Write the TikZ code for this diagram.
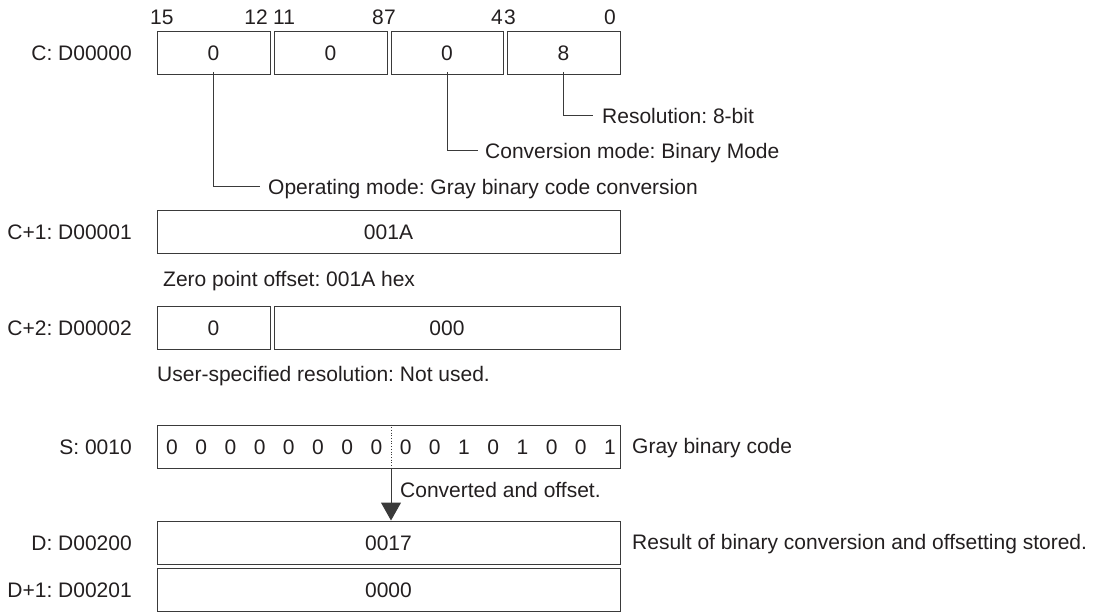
\documentclass[tikz,border=0pt]{standalone}
\usepackage{fontspec}
\setmainfont{Liberation Sans}
\usetikzlibrary{arrows.meta}
\definecolor{ink}{HTML}{231F20}
\definecolor{rule}{HTML}{3A3A3A}
\frenchspacing
\begin{document}
\begin{tikzpicture}[x=1pt,y=-1pt,
  font=\fontsize{21}{25}\selectfont\frenchspacing, text=ink,
  txt/.style={inner sep=0pt, text height=15pt, text depth=0pt},
  cell/.style={txt, draw=rule, line width=1pt, minimum height=43pt, anchor=center},
  lbl/.style={txt, anchor=east},
  note/.style={txt, anchor=west},
  bitno/.style={inner sep=0pt},
  lead/.style={draw=rule, line width=1pt}]
\useasboundingbox (0,0) rectangle (1098,612);

% C row
\node[lbl] (lc) at (132,53) {C: D00000};
\node[cell, minimum width=113pt] (c0) at (213.5,53) {0};
\node[cell, minimum width=113pt] (c1) at (330.5,53) {0};
\node[cell, minimum width=112pt] (c2) at (447,53) {0};
\node[cell, minimum width=113pt] (c3) at (563.5,53) {8};
\node[bitno, anchor=base west] (b15) at (150,25) {15};
\node[bitno, anchor=base east] (b12) at (268,25) {12};
\node[bitno, anchor=base west] (b11) at (273,25) {11};
\node[bitno, anchor=base east] (b8) at (384,25) {8};
\node[bitno, anchor=base west] (b7) at (384,25) {7};
\node[bitno, anchor=base east] (b4) at (503,25) {4};
\node[bitno, anchor=base west] (b3) at (504,25) {3};
\node[bitno, anchor=base east] (b0) at (616,25) {0};

% leader notes
\node[note] (res) at (602,116) {Resolution: 8-bit};
\node[note] (cvm) at (485,151) {Conversion mode: Binary Mode};
\node[note] (opm) at (268,187) {Operating mode: Gray binary code conversion};
\draw[lead] ([yshift=3pt]c3.south) |- ([xshift=-9pt]res.west);
\draw[lead] ([yshift=3pt]c2.south) |- ([xshift=-7pt]cvm.west);
\draw[lead] ([yshift=3pt]c0.south) |- ([xshift=-8pt]opm.west);

% C+1 row
\node[lbl] (lc1) at (132,232) {C+1: D00001};
\node[cell, minimum width=463pt] (w1) at (388.5,232) {001A};
\node[note] (zp) at (163,279) {Zero point offset: 001A hex};

% C+2 row
\node[lbl] (lc2) at (132,328) {C+2: D00002};
\node[cell, minimum width=113pt] (w2a) at (213.5,328) {0};
\node[cell, minimum width=346pt] (w2b) at (447,328) {000};
\node[note] (us) at (157,374) {User-specified resolution: Not used.};

% S row
\node[lbl] (ls) at (132,446.5) {S: 0010};
\node[cell, minimum width=463pt] (s) at (388.5,446.5) {};
\foreach \b [count=\i from 0] in {0,0,0,0,0,0,0,0,0,0,1,0,1,0,0,1}
  \node[txt] (sb\i) at (172+29.2*\i,446.5) {\b};
\coordinate (split) at (391,446.5);
\draw[rule, line width=0.7pt, dotted] (split |- s.north) -- (split |- s.south);
\node[note] (gb) at (632,446) {Gray binary code};

% D rows
\node[lbl] (ld) at (132,542.5) {D: D00200};
\node[cell, minimum width=463pt] (d) at (388.5,542.5) {0017};
\node[note] (rs) at (632,542) {Result of binary conversion and offsetting stored.};
\node[lbl] (ld1) at (132,589.5) {D+1: D00201};
\node[cell, minimum width=463pt] (d1) at (388.5,589.5) {0000};

% arrow
\draw[rule, line width=1pt, -{Triangle[width=20pt,length=18pt]}] (split |- s.south) -- (split |- d.north);
\node[note] (co) at (400,490) {Converted and offset.};
\end{tikzpicture}
\end{document}
